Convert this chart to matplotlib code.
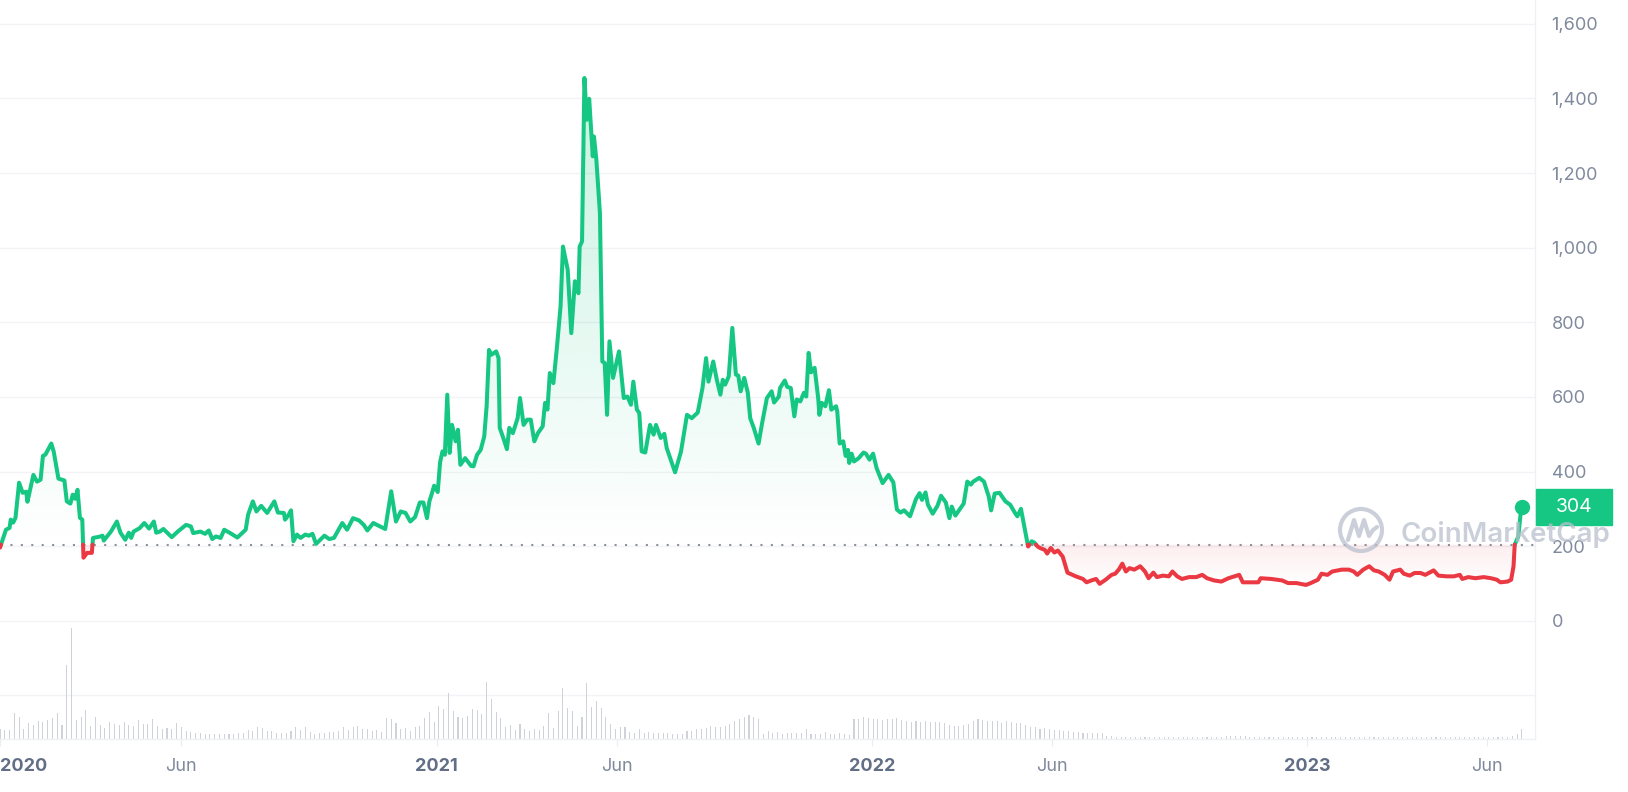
import numpy as np
import matplotlib
matplotlib.use('Agg')
import matplotlib.pyplot as plt
from matplotlib.colors import to_rgb
from matplotlib.patches import Rectangle, Circle
from matplotlib.transforms import blended_transform_factory

# Price series, days counted from 2020-01-01
start = np.datetime64('2020-01-01')
day = [0, 5, 8, 9, 11, 13, 16, 19, 22, 23, 28, 31, 34, 36, 38, 43, 45, 49, 54, 56,
       59, 61, 63, 65, 67, 69, 70, 73, 77, 78, 83, 86, 87, 93, 98, 101, 105, 108, 110, 112,
       117, 121, 125, 129, 131, 134, 137, 144, 149, 156, 160, 162, 168, 172, 175, 178, 181, 185, 188, 193,
       199, 206, 208, 212, 215, 219, 224, 230, 233, 238, 239, 242, 244, 246, 249, 252, 256, 259, 262, 265,
       272, 276, 280, 283, 287, 291, 296, 301, 305, 308, 313, 316, 323, 328, 332, 336, 340, 344, 348, 352,
       355, 358, 360, 362, 364, 367, 369, 371, 373, 375, 377, 379, 382, 384, 386, 390, 395, 397, 400, 403,
       406, 408, 410, 412, 416, 418, 419, 422, 425, 427, 430, 434, 436, 439, 442, 445, 448, 451, 455, 457,
       459, 461, 464, 467, 470, 472, 476, 479, 482, 485, 486, 488, 490, 492, 494, 497, 498, 500, 503, 505,
       507, 509, 511, 514, 519, 523, 526, 529, 531, 534, 536, 538, 541, 545, 548, 550, 554, 557, 559, 566,
       571, 576, 580, 585, 589, 592, 594, 598, 601, 604, 606, 608, 611, 614, 617, 619, 621, 624, 627, 629,
       632, 636, 639, 643, 647, 649, 653, 654, 658, 660, 663, 666, 668, 671, 674, 676, 678, 680, 683, 686,
       687, 689, 692, 695, 697, 701, 702, 704, 707, 709, 711, 712, 714, 716, 720, 724, 726, 729, 732, 735,
       740, 745, 749, 752, 755, 758, 763, 768, 771, 773, 776, 778, 782, 786, 789, 793, 796, 798, 801, 808,
       811, 814, 816, 821, 825, 829, 831, 834, 838, 843, 847, 851, 853, 856, 858, 862, 865, 867, 870, 872,
       876, 878, 881, 884, 887, 891, 895, 902, 908, 911, 915, 919, 922, 927, 932, 935, 938, 941, 944, 947,
       951, 956, 960, 963, 967, 970, 975, 980, 983, 987, 991, 997, 1003, 1008, 1012, 1018, 1024, 1030, 1039, 1042,
       1048, 1055, 1057, 1066, 1075, 1080, 1087, 1095, 1099, 1105, 1108, 1113, 1117, 1125, 1131, 1135, 1138, 1143, 1148, 1152,
       1156, 1161, 1165, 1168, 1174, 1177, 1182, 1186, 1191, 1195, 1202, 1206, 1213, 1219, 1224, 1226, 1231, 1237, 1244, 1250,
       1255, 1258, 1264, 1267, 1269, 1270, 1273, 1275, 1276]
price = [196, 244, 249, 271, 263, 276, 370, 343, 346, 319, 391, 373, 378, 442, 445, 475, 454, 381, 376, 320,
         314, 338, 327, 351, 276, 271, 169, 182, 182, 222, 225, 228, 215, 239, 266, 236, 217, 236, 222, 239,
         248, 262, 247, 266, 236, 239, 246, 224, 239, 257, 253, 235, 239, 233, 242, 219, 226, 222, 244, 235,
         223, 244, 284, 320, 293, 308, 289, 320, 290, 289, 271, 284, 296, 213, 231, 222, 231, 228, 233, 206,
         228, 219, 222, 239, 262, 244, 275, 269, 257, 242, 262, 257, 246, 347, 266, 293, 289, 266, 278, 317,
         317, 275, 320, 340, 362, 345, 425, 454, 445, 606, 450, 525, 481, 512, 418, 436, 415, 414, 445, 458,
         494, 575, 726, 713, 722, 704, 517, 490, 460, 517, 503, 543, 597, 525, 539, 539, 481, 503, 521, 584,
         566, 664, 637, 735, 843, 1003, 941, 771, 910, 878, 1003, 1017, 1455, 1343, 1399, 1245, 1298, 1236, 1093, 695,
         691, 552, 749, 651, 722, 597, 601, 579, 641, 566, 557, 454, 451, 525, 499, 525, 490, 501, 463, 398,
         454, 552, 543, 558, 624, 704, 641, 695, 646, 606, 646, 633, 655, 785, 660, 657, 615, 651, 611, 543,
         517, 475, 530, 597, 615, 585, 601, 624, 644, 627, 624, 548, 593, 588, 611, 601, 718, 666, 678, 597,
         552, 584, 575, 618, 566, 575, 561, 475, 481, 442, 458, 423, 448, 427, 436, 451, 448, 432, 448, 409,
         369, 391, 371, 298, 290, 296, 280, 326, 342, 324, 344, 311, 287, 308, 335, 317, 275, 306, 282, 314,
         373, 365, 373, 383, 373, 333, 296, 341, 343, 320, 311, 289, 280, 300, 266, 199, 213, 210, 199, 195,
         190, 180, 195, 183, 188, 172, 129, 119, 112, 103, 108, 112, 99, 110, 123, 126, 137, 153, 132, 141,
         137, 146, 132, 114, 129, 117, 121, 119, 132, 119, 112, 117, 117, 123, 114, 108, 105, 114, 123, 103,
         103, 103, 114, 112, 108, 101, 101, 96, 101, 110, 126, 123, 132, 137, 137, 132, 123, 137, 146, 135,
         132, 123, 110, 132, 137, 126, 121, 128, 128, 123, 135, 121, 119, 119, 123, 112, 117, 114, 117, 114,
         110, 103, 105, 110, 146, 204, 226, 289, 304]
base_price = 204
last_price = 304

# Volume (relative bar heights), one bar every 4 days from 2020-01-01
vol_step = 4
vol = [10, 9, 9, 26, 22, 10, 16, 14, 18, 17,
       19, 21, 26, 14, 74, 111, 19, 22, 29, 13,
       22, 14, 11, 17, 15, 14, 17, 14, 13, 19,
       15, 15, 20, 13, 10, 11, 10, 16, 12, 8,
       7, 6, 6, 5, 5, 5, 5, 5, 5, 5,
       6, 6, 9, 8, 12, 11, 8, 8, 6, 6,
       6, 8, 12, 9, 12, 7, 5, 6, 6, 7,
       7, 8, 12, 9, 12, 13, 10, 10, 8, 9,
       7, 21, 20, 16, 10, 11, 8, 12, 13, 21,
       27, 17, 33, 30, 46, 28, 22, 21, 23, 30,
       29, 25, 57, 40, 27, 21, 12, 14, 9, 15,
       10, 8, 10, 9, 13, 26, 11, 28, 51, 31,
       28, 13, 22, 56, 32, 38, 31, 22, 15, 10,
       12, 12, 7, 6, 10, 6, 7, 6, 6, 6,
       6, 5, 5, 5, 8, 8, 10, 10, 11, 13,
       12, 12, 13, 15, 18, 20, 22, 24, 22, 20,
       5, 8, 6, 7, 5, 6, 6, 6, 6, 10,
       5, 5, 5, 7, 5, 5, 6, 5, 4, 20,
       20, 22, 21, 20, 20, 19, 20, 20, 21, 19,
       18, 17, 18, 17, 18, 17, 17, 17, 16, 14,
       13, 13, 14, 15, 18, 20, 19, 18, 18, 18,
       16, 18, 17, 16, 16, 14, 12, 12, 10, 11,
       10, 9, 9, 8, 8, 7, 7, 6, 6, 6,
       6, 6, 3, 3, 2, 2, 2, 2, 2, 2,
       2, 2, 2, 2, 2, 2, 2, 2, 2, 2,
       2, 2, 2, 2, 2, 2, 2, 3, 3, 3,
       3, 3, 2, 2, 2, 2, 2, 2, 2, 2,
       2, 2, 2, 2, 2, 2, 2, 2, 2, 2,
       2, 2, 2, 2, 2, 2, 2, 2, 2, 2,
       2, 2, 2, 2, 2, 2, 2, 2, 2, 2,
       2, 2, 2, 2, 2, 2, 2, 2, 2, 2,
       2, 2, 2, 2, 2, 2, 2, 3, 5, 10]

tick_dates = ['2020-01-01', '2020-06-01', '2021-01-01', '2021-06-01',
              '2022-01-01', '2022-06-01', '2023-01-01', '2023-06-01']
tick_text = ['2020', 'Jun', '2021', 'Jun', '2022', 'Jun', '2023', 'Jun']
price_ticks = [0, 200, 400, 600, 800, 1000, 1200, 1400, 1600]

GREEN = '#16c784'
RED = '#ea3943'
GRID = '#f1f3f6'

plt.rcParams['font.family'] = ['Inter', 'DejaVu Sans']

fig = plt.figure(figsize=(16.28, 7.92), dpi=100)
ax = fig.add_axes([0, 53 / 792, 1535 / 1628, 739 / 792])
x_min, x_max = 0, 1287
y_min, y_max = -317, 1664

x = np.array(day, dtype=float)
y = np.array(price, dtype=float)

# split the line where it crosses the baseline so colours change exactly there
xs, ys = [x[0]], [y[0]]
for i in range(1, len(x)):
    a, b = y[i - 1] - base_price, y[i] - base_price
    if a * b < 0:
        t = a / (a - b)
        xs.append(x[i - 1] + t * (x[i] - x[i - 1]))
        ys.append(base_price)
    xs.append(x[i])
    ys.append(y[i])
xs = np.array(xs)
ys = np.array(ys)

# gradient fills clipped to the area between line and baseline
poly_g = ax.fill_between(xs, base_price, np.maximum(ys, base_price), color='none', lw=0)
grad = np.zeros((256, 1, 4))
grad[..., :3] = to_rgb(GREEN)
grad[:, 0, 3] = np.linspace(0.0, 0.24, 256)
im_g = ax.imshow(grad, extent=[x_min, x_max, base_price, max(price)], origin='lower',
                 aspect='auto', zorder=1, interpolation='bilinear')
im_g.set_clip_path(poly_g.get_paths()[0], transform=ax.transData)

poly_r = ax.fill_between(xs, np.minimum(ys, base_price), base_price, color='none', lw=0)
grad_r = np.zeros((256, 1, 4))
grad_r[..., :3] = to_rgb(RED)
grad_r[:, 0, 3] = np.linspace(0.0, 0.09, 256)
im_r = ax.imshow(grad_r, extent=[x_min, x_max, 95, base_price], origin='lower',
                 aspect='auto', zorder=1, interpolation='bilinear')
im_r.set_clip_path(poly_r.get_paths()[0], transform=ax.transData)

# volume bars at the bottom
vol_x = np.arange(len(vol)) * vol_step
vol_scale = 2.68
ax.bar(vol_x, np.array(vol) * vol_scale, bottom=y_min, width=0.9,
       color='#cfd3d9', lw=0, zorder=1)

# baseline
ax.axhline(base_price, color='#8c929c', lw=1.5, ls=(0, (1, 4)), zorder=2)

# price line
ax.plot(xs, np.ma.masked_where(ys < base_price, ys), color=GREEN, lw=2.9,
        solid_joinstyle='round', solid_capstyle='round', zorder=3)
ax.plot(xs, np.ma.masked_where(ys > base_price, ys), color=RED, lw=2.9,
        solid_joinstyle='round', solid_capstyle='round', zorder=3)
ax.plot(day[-1], last_price, 'o', ms=10, color=GREEN, zorder=4)

ax.set_xlim(x_min, x_max)
ax.set_ylim(y_min, y_max)

# axes styling
ax.set_yticks([-200] + price_ticks)
ax.set_yticklabels([''] + [f'{v:,}' for v in price_ticks])
ax.yaxis.tick_right()
ax.tick_params(axis='y', length=0, pad=12, labelsize=13, labelcolor='#808a9d')
ax.grid(axis='y', color=GRID, lw=1)
ax.set_axisbelow(True)

tick_days = (np.array(tick_dates, dtype='datetime64[D]') - start).astype(int)
ax.set_xticks(tick_days, tick_text)
ax.tick_params(axis='x', length=5, color='#e9ecf0', pad=9, labelsize=13, labelcolor='#808a9d')
for lab, txt in zip(ax.get_xticklabels(), tick_text):
    if txt != 'Jun':
        lab.set_fontweight('bold')
        lab.set_color('#616e85')
ax.get_xticklabels()[0].set_ha('left')

for s in ['top', 'left']:
    ax.spines[s].set_visible(False)
for s in ['right', 'bottom']:
    ax.spines[s].set_color('#eef0f3')
    ax.spines[s].set_linewidth(1)

# last price tag
tr = blended_transform_factory(ax.transAxes, ax.transData)
ax.add_patch(Rectangle((1.0007, last_price - 48), 0.0495, 96, transform=tr,
                       color=GREEN, clip_on=False, zorder=5))
ax.text(1.0255, last_price, f'{last_price}', transform=tr, color='white',
        fontsize=14, ha='center', va='center', zorder=6)

# watermark overlay in pixel coordinates
ov = fig.add_axes([0, 0, 1, 1], facecolor='none')
ov.set_xlim(0, 1628)
ov.set_ylim(792, 0)
ov.axis('off')
wm = '#b9c0cd'
ov.add_patch(Circle((1361, 530), 21, fill=False, ec=wm, lw=3, alpha=0.75))
ov.plot([1348, 1354, 1359, 1364, 1369, 1373, 1377],
        [540, 520, 536, 520, 536, 530, 527], color=wm, lw=3, alpha=0.75,
        solid_joinstyle='round', solid_capstyle='round')
ov.text(1401, 542, 'CoinMarketCap', fontsize=20, fontweight='semibold',
        color=wm, alpha=0.75, ha='left', va='baseline')

fig.savefig('out.png', dpi=100, facecolor='white')
